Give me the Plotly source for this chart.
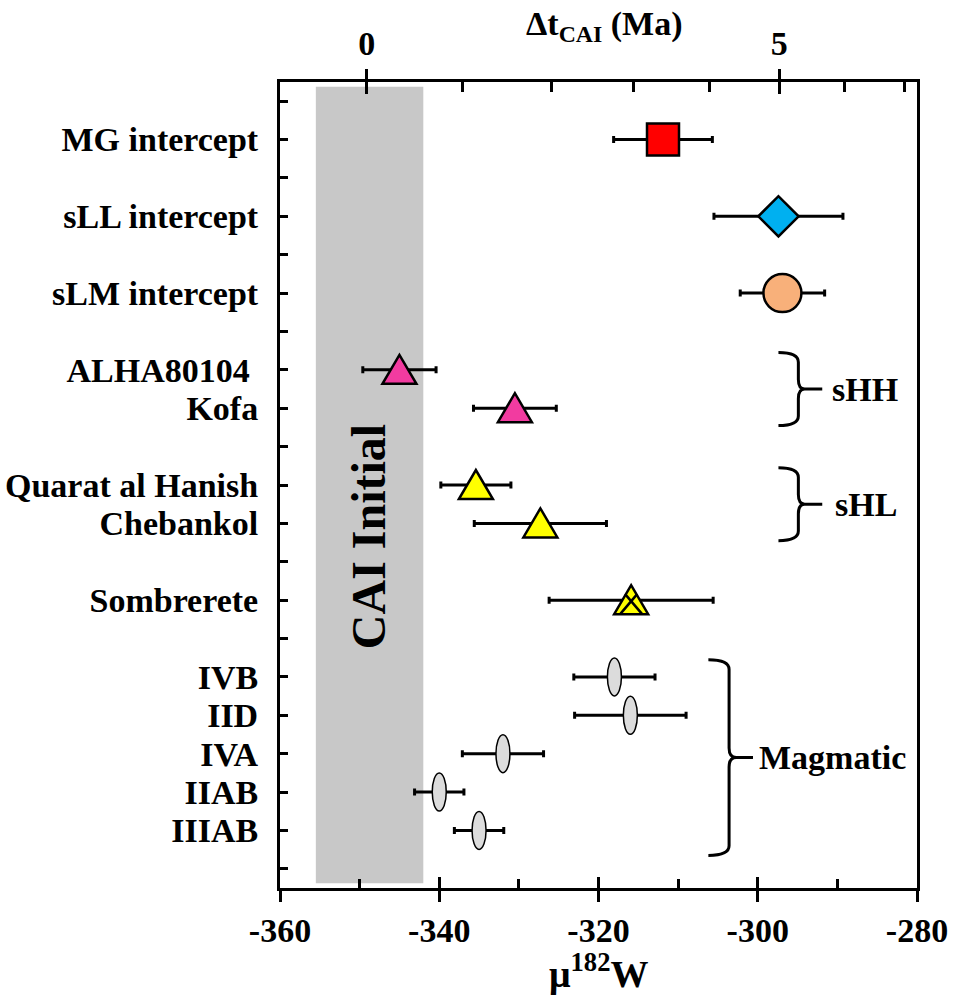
import math
import plotly.graph_objects as go

# ---------------- data ----------------
labels = ["MG intercept", "sLL intercept", "sLM intercept", "ALHA80104\u00a0", "Kofa",
          "Quarat al Hanish", "Chebankol", "Sombrerete", "IVB", "IID", "IVA", "IIAB", "IIIAB"]
rows = [1, 3, 5, 7, 8, 10, 11, 13, 15, 16, 17, 18, 19]
mu182w = [-311.9, -297.4, -296.9, -345.0, -330.5, -335.4, -327.3, -315.9,
          -318.0, -316.0, -332.0, -340.0, -335.0]
mu_err = [6.2, 8.1, 5.3, 4.6, 5.2, 4.4, 8.3, 10.3, 5.1, 7.0, 5.1, 3.1, 3.1]
groups = ["MG", "sLL", "sLM", "sHH", "sHH", "sHL", "sHL", "Somb",
          "Mag", "Mag", "Mag", "Mag", "Mag"]

x_ticks = [-360, -340, -320, -300, -280]
x_minor = [-350, -330, -310, -290]
cai_band = [-355.5, -342.0]          # CAI initial mu182W range
dt_major = [0, 5]                    # Ma
dt_minor = [1, 2, 3, 4, 6, 7]
MU0, A_SCALE, HALF_LIFE = -349.1, 160.6, 8.9
lam = math.log(2) / HALF_LIFE


def dt_to_mu(t):
    return MU0 + A_SCALE * (1 - math.exp(-lam * t))


FONT = "Liberation Serif"
BLACK = "black"

fig = go.Figure()

# gray CAI band
fig.add_shape(type="rect", xref="x", yref="paper", x0=cai_band[0], x1=cai_band[1],
              y0=0.006, y1=0.994, fillcolor="#c8c8c8", line_width=0, layer="below")

styles = {
    "MG": dict(symbol="square", size=32, color="#ff0000"),
    "sLL": dict(symbol="diamond", size=31, color="#00b0f0"),
    "sLM": dict(symbol="circle", size=38, color="#f8b07a"),
}

for g in ["MG", "sLL", "sLM", "sHH", "sHL", "Somb", "Mag"]:
    idx = [i for i, gg in enumerate(groups) if gg == g]
    xs = [mu182w[i] for i in idx]
    ys = [rows[i] for i in idx]
    es = [mu_err[i] for i in idx]
    if g in styles:
        st = styles[g]
        marker = dict(symbol=st["symbol"], size=st["size"], color=st["color"],
                      line=dict(color=BLACK, width=2.5))
    else:
        marker = dict(size=1, opacity=0)
    fig.add_trace(go.Scatter(
        x=xs, y=ys, mode="markers", marker=marker,
        error_x=dict(type="data", array=es, visible=True, color=BLACK,
                     thickness=3, width=3.5),
        showlegend=False, hoverinfo="skip"))

# triangle and ellipse glyphs anchored at data values
tri_colors = {"sHH": "#f23ba0", "sHL": "#ffff00", "Somb": "#ffff00"}
for i, g in enumerate(groups):
    if g in tri_colors:
        fig.add_shape(type="path", xref="x", yref="y", xsizemode="pixel", ysizemode="pixel",
                      xanchor=mu182w[i], yanchor=rows[i],
                      path="M-17,-14 L17,-14 L0,15 Z",
                      fillcolor=tri_colors[g], line=dict(color=BLACK, width=2.5), layer="above")
        if g == "Somb":
            fig.add_shape(type="path", xref="x", yref="y", xsizemode="pixel", ysizemode="pixel",
                          xanchor=mu182w[i], yanchor=rows[i],
                          path="M-6,6 L11,-14 M6,6 L-11,-14",
                          line=dict(color=BLACK, width=2.5), layer="above")
    elif g == "Mag":
        fig.add_shape(type="circle", xref="x", yref="y", xsizemode="pixel", ysizemode="pixel",
                      xanchor=mu182w[i], yanchor=rows[i], x0=-7, x1=7, y0=-19, y1=19,
                      fillcolor="#dcdcdc", line=dict(color=BLACK, width=1.5), layer="above")

# curly brackets
brackets = [
    ("sHH", -297.4, -294.9, -294.1, -291.9, 6.55, 7.5, 8.45, -290.9),
    ("sHL", -297.4, -294.9, -294.1, -291.9, 9.55, 10.5, 11.45, -290.5),
    ("Magmatic", -306.2, -303.6, -302.7, -300.6, 14.55, 17.1, 19.65, -300.1),
]
for name, x0, xv, xt, xe, yt, ym, yb, xl in brackets:
    c = 0.25
    path = (f"M{x0},{yt} Q{xv},{yt} {xv},{yt + c} L{xv},{ym - c} "
            f"Q{xv},{ym} {xt},{ym} Q{xv},{ym} {xv},{ym + c} L{xv},{yb - c} "
            f"Q{xv},{yb} {x0},{yb} M{xt},{ym} L{xe},{ym}")
    fig.add_shape(type="path", xref="x", yref="y", path=path,
                  line=dict(color=BLACK, width=3), layer="above")
    fig.add_annotation(x=xl, y=ym, xref="x", yref="y", text=name, showarrow=False,
                       xanchor="left", yanchor="middle",
                       font=dict(family=FONT, size=34, color=BLACK, weight="bold"))

fig.add_annotation(x=-348.9, y=11.35, xref="x", yref="y", text="CAI Initial",
                   textangle=-90, showarrow=False,
                   font=dict(family=FONT, size=48, color=BLACK, weight="bold"))

# axis titles as annotations
fig.add_annotation(x=0.5, y=-0.103, xref="paper", yref="paper",
                   text="\u03bc<sup>182</sup>W", showarrow=False,
                   xanchor="center", yanchor="middle",
                   font=dict(family=FONT, size=38, color=BLACK, weight="bold"))
fig.add_annotation(x=0.51, y=1.07, xref="paper", yref="paper",
                   text="\u0394t<sub>CAI</sub> (Ma)", showarrow=False,
                   xanchor="center", yanchor="middle",
                   font=dict(family=FONT, size=34, color=BLACK, weight="bold"))

# dummy traces so overlay axes render
for ax in ["x2", "x3", "x4"]:
    fig.add_trace(go.Scatter(x=[-360], y=[0], xaxis=ax, mode="markers",
                             marker=dict(opacity=0, size=1), showlegend=False,
                             hoverinfo="skip"))

tickfont = dict(family=FONT, size=34, color=BLACK, weight="bold")
ytext = {r: l for r, l in zip(rows, labels)}

fig.update_layout(
    width=956, height=998,
    margin=dict(l=280, r=39, t=82, b=110, autoexpand=False),
    paper_bgcolor="white", plot_bgcolor="white",
    xaxis=dict(range=[-360, -280], tickmode="array", tickvals=x_ticks,
               ticktext=[str(v) for v in x_ticks], automargin=False,
               ticks="outside", ticklen=11, tickwidth=3, tickcolor=BLACK,
               ticklabelstandoff=-1,
               showline=True, linewidth=3, linecolor=BLACK, mirror=True,
               showgrid=False, zeroline=False, tickfont=tickfont,
               minor=dict(tickmode="array", tickvals=x_minor, ticks="inside",
                          ticklen=9, tickwidth=3, tickcolor=BLACK, showgrid=False)),
    xaxis3=dict(range=[-360, -280], overlaying="x", side="bottom", tickmode="array",
                tickvals=x_ticks, ticks="inside", ticklen=11, tickwidth=3,
                tickcolor=BLACK, showticklabels=False, showline=False, showgrid=False,
                zeroline=False, automargin=False),
    xaxis2=dict(range=[-360, -280], overlaying="x", side="top", tickmode="array",
                tickvals=[dt_to_mu(t) for t in dt_major], ticktext=[str(t) for t in dt_major],
                ticks="outside", ticklen=12, tickwidth=3, tickcolor=BLACK,
                showline=False, showgrid=False, zeroline=False, tickfont=tickfont,
                automargin=False,
                minor=dict(tickmode="array", tickvals=[dt_to_mu(t) for t in dt_minor],
                           ticks="inside", ticklen=10, tickwidth=3, tickcolor=BLACK,
                           showgrid=False)),
    xaxis4=dict(range=[-360, -280], overlaying="x", side="top", tickmode="array",
                tickvals=[dt_to_mu(t) for t in dt_major], ticks="inside", ticklen=12,
                tickwidth=3, tickcolor=BLACK, showticklabels=False, showline=False,
                showgrid=False, zeroline=False, automargin=False),
    yaxis=dict(range=[20.5, -0.5], tickmode="array", tickvals=list(range(0, 21)),
               ticktext=[ytext.get(k, "") for k in range(0, 21)],
               ticks="inside", ticklen=8, tickwidth=3, tickcolor=BLACK,
               ticklabelstandoff=12, automargin=False,
               showline=True, linewidth=3, linecolor=BLACK, mirror=True,
               showgrid=False, zeroline=False, tickfont=tickfont),
)

fig.write_html("out.html",
               config={"displayModeBar": False},
               post_script="document.body.style.margin='0px';"
                           "document.body.style.overflow='hidden';")
